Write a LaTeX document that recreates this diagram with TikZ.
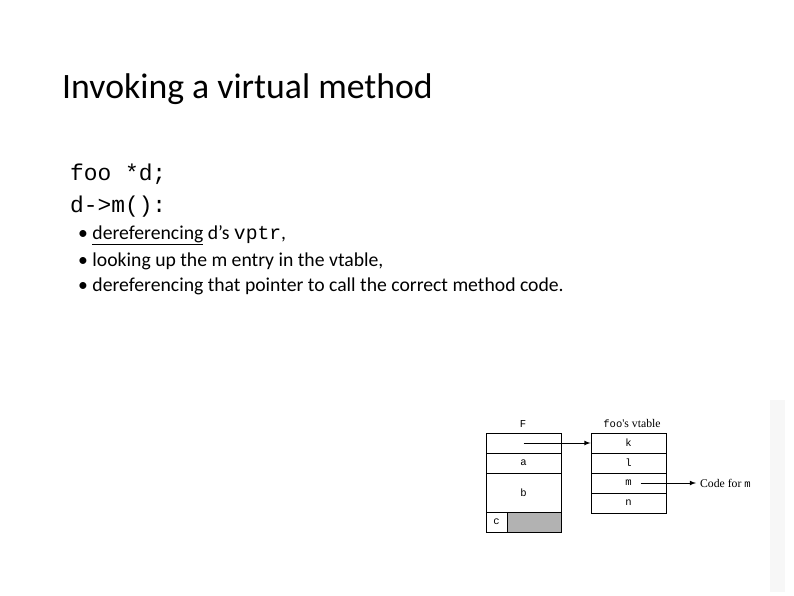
\documentclass[tikz,border=0pt]{standalone}
\usepackage{fontspec}
\setmainfont{Carlito}
\newfontfamily\codefont{Liberation Mono}
\newfontfamily\figfont{Liberation Serif}
\usetikzlibrary{positioning}
\begin{document}
\begin{tikzpicture}[x=0.03cm,y=-0.03cm,
  cell/.style={draw,thick,minimum width=75*0.03cm,inner sep=0pt,font=\codefont\fontsize{9}{10}\selectfont},
  bullet/.style={anchor=west,font=\fontsize{16.8}{19}\selectfont,inner sep=0pt}]
\useasboundingbox (0,0) rectangle (794,595);
\fill[white] (0,0) rectangle (794,595);
\fill[black!3] (770,400) rectangle (785,592);
\node[anchor=west,inner sep=0pt,font=\fontsize{30.5}{34}\selectfont] (title) at (62,89) {Invoking a virtual method};
\node[anchor=west,inner sep=0pt,font=\codefont\fontsize{19.5}{22}\selectfont] (decl) at (70,174) {foo *d;};
\node[anchor=west,inner sep=0pt,font=\codefont\fontsize{19.5}{22}\selectfont] (call) at (70,207) {d->m():};
\node[bullet] (b1) at (78,235) {\textbullet\ \underline{dereferencing} d's {\codefont vptr},};
\node[bullet] (b2) at (78,261) {\textbullet\ looking up the m entry in the vtable,};
\node[bullet] (b3) at (78,286) {\textbullet\ dereferencing that pointer to call the correct method code.};
% object layout
\node[cell,minimum height=20*0.03cm] (vptr) at (523.5,443) {};
\node[cell,minimum height=20*0.03cm] (fa) at (523.5,463) {a};
\node[cell,minimum height=39*0.03cm] (fb) at (523.5,492.5) {b};
\fill[black!30] (507,512) rectangle (561,532);
\node[cell,minimum height=20*0.03cm] (fc) at (523.5,522) {};
\node[cell,minimum width=21*0.03cm,minimum height=20*0.03cm] (c) at (496.5,522) {c};
\node[font=\codefont\fontsize{9}{10}\selectfont] (flabel) at (523,424) {F};
% vtable
\node[cell,minimum height=20*0.03cm] (vk) at (628.5,443) {k};
\node[cell,minimum height=20*0.03cm] (vl) at (628.5,463) {l};
\node[cell,minimum height=20*0.03cm] (vm) at (628.5,483) {m};
\node[cell,minimum height=20*0.03cm] (vn) at (628.5,503) {n};
\node[font=\figfont\fontsize{10}{11}\selectfont] (vlabel) at (632,423) {{\codefont\fontsize{9}{10}\selectfont foo}'s vtable};
\node[anchor=west,font=\figfont\fontsize{10}{11}\selectfont] (code) at (696,483) {Code for {\codefont\fontsize{9}{10}\selectfont m}};
\draw[thick,-latex] (vptr.center) -- (vk.west);
\draw[thick,-latex] ([xshift=12*0.03cm]vm.center) -- (code.west);
\end{tikzpicture}
\end{document}
